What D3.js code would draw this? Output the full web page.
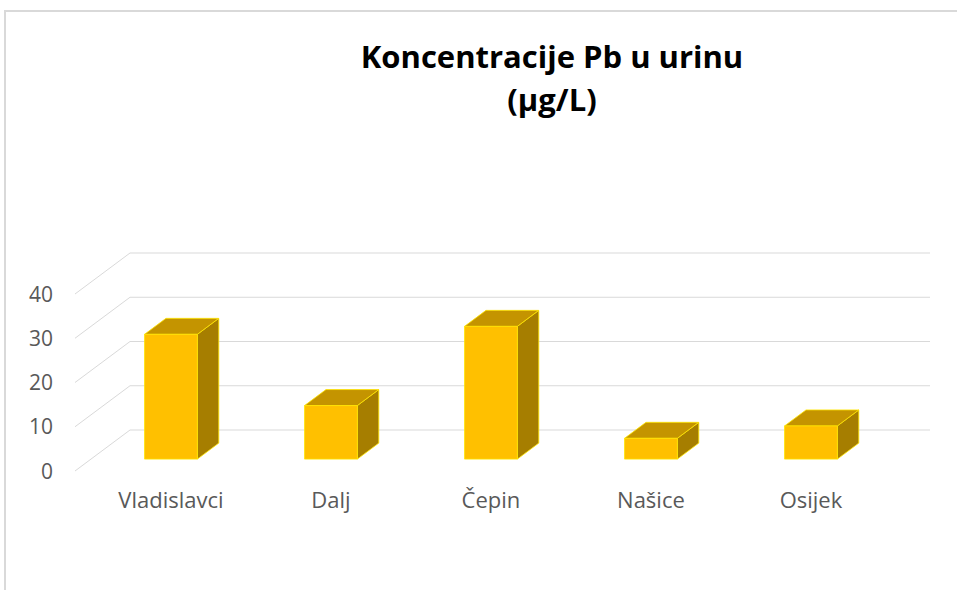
<!DOCTYPE html>
<html>
<head>
<meta charset="utf-8">
<script src="https://cdn.jsdelivr.net/npm/d3@7"></script>
<style>
  body { margin: 0; background: #fff; }
  svg text { font-family: "Open Sans", sans-serif; }
</style>
</head>
<body>
<div id="chart"></div>
<script>
// data
var categories = ["Vladislavci", "Dalj", "Čepin", "Našice", "Osijek"];
var values     = [28.2, 12.1, 30.0, 4.7, 7.5];
var yTicks     = [0, 10, 20, 30, 40];
var titleLines = ["Koncentracije Pb u urinu", "(µg/L)"];

var width  = 957,
    height = 590;

// 3d layout: front plane of the floor, and the depth offset to the back wall
var front  = {left: 75, right: 875, bottom: 471, top: 294},
    depth  = {dx: 55, dy: -41},
    barD0  = 0.29,   // bar front, as share of the depth
    barD1  = 0.68;   // bar back

var x = d3.scaleBand()
  .domain(categories)
  .range([front.left, front.right])
  .paddingInner(0.67)
  .paddingOuter(0.335);

var y = d3.scaleLinear()
  .domain([0, 40])
  .range([front.bottom, front.top]);

// project a point on the front plane back by share d of the depth
function proj(px, py, d) {
  return [px + d * depth.dx, py + d * depth.dy];
}

var svg = d3.select("#chart")
  .append("svg")
  .attr("width", width)
  .attr("height", height);

// chart border (runs off the picture to the right and bottom)
svg.append("rect")
  .attr("x", 5)
  .attr("y", 11)
  .attr("width", 1000)
  .attr("height", 700)
  .attr("fill", "#fff")
  .attr("stroke", "#d9d9d9")
  .attr("stroke-width", 2);

// title
svg.append("text")
  .attr("x", 552)
  .attr("y", 68)
  .attr("text-anchor", "middle")
  .attr("font-size", 31)
  .attr("font-weight", "bold")
  .attr("fill", "#000")
  .selectAll("tspan")
  .data(titleLines)
  .enter()
  .append("tspan")
  .attr("x", 552)
  .attr("dy", function (d, i) { return i === 0 ? 0 : 43; })
  .text(function (d) { return d; });

// back wall gridlines
var grid = svg.append("g").attr("class", "grid");
grid.selectAll("line.back")
  .data(yTicks)
  .enter()
  .append("line")
  .attr("class", "back")
  .attr("x1", function () { return front.left + depth.dx; })
  .attr("x2", function () { return front.right + depth.dx; })
  .attr("y1", function (d) { return y(d) + depth.dy; })
  .attr("y2", function (d) { return y(d) + depth.dy; })
  .attr("stroke", "#d9d9d9")
  .attr("stroke-width", 1);

// side wall diagonals
grid.selectAll("line.side")
  .data(yTicks)
  .enter()
  .append("line")
  .attr("class", "side")
  .attr("x1", front.left)
  .attr("y1", function (d) { return y(d); })
  .attr("x2", front.left + depth.dx)
  .attr("y2", function (d) { return y(d) + depth.dy; })
  .attr("stroke", "#d9d9d9")
  .attr("stroke-width", 1);

// y axis labels
svg.append("g")
  .selectAll("text")
  .data(yTicks)
  .enter()
  .append("text")
  .attr("x", 53)
  .attr("y", function (d) { return y(d); })
  .attr("dy", "0.36em")
  .attr("text-anchor", "end")
  .attr("font-size", 21)
  .attr("fill", "#595959")
  .text(function (d) { return d; });

// bars
var data = categories.map(function (c, i) { return {name: c, value: values[i]}; });
var line = d3.line();

var bars = svg.append("g")
  .selectAll("g.bar")
  .data(data)
  .enter()
  .append("g")
  .attr("class", "bar");

function corners(d) {
  var x0 = x(d.name), x1 = x(d.name) + x.bandwidth();
  var yb = y(0), yt = y(d.value);
  return {
    fbl: proj(x0, yb, barD0), fbr: proj(x1, yb, barD0),
    ftl: proj(x0, yt, barD0), ftr: proj(x1, yt, barD0),
    bbr: proj(x1, yb, barD1),
    btl: proj(x0, yt, barD1), btr: proj(x1, yt, barD1)
  };
}

// right side
bars.append("path")
  .attr("d", function (d) {
    var p = corners(d);
    return line([p.fbr, p.ftr, p.btr, p.bbr]) + "Z";
  })
  .attr("fill", "#a67e00")
  .attr("stroke", "#ffe600")
  .attr("stroke-width", 0.8)
  .attr("stroke-linejoin", "round");

// top
bars.append("path")
  .attr("d", function (d) {
    var p = corners(d);
    return line([p.ftl, p.ftr, p.btr, p.btl]) + "Z";
  })
  .attr("fill", "#c49400")
  .attr("stroke", "#ffe600")
  .attr("stroke-width", 0.8)
  .attr("stroke-linejoin", "round");

// front
bars.append("path")
  .attr("d", function (d) {
    var p = corners(d);
    return line([p.fbl, p.fbr, p.ftr, p.ftl]) + "Z";
  })
  .attr("fill", "#ffc000")
  .attr("stroke", "#ffe600")
  .attr("stroke-width", 0.8)
  .attr("stroke-linejoin", "round");

// category labels
svg.append("g")
  .selectAll("text")
  .data(categories)
  .enter()
  .append("text")
  .attr("x", function (d) { return x(d) + x.bandwidth() / 2 + barD0 * depth.dx; })
  .attr("y", 508)
  .attr("text-anchor", "middle")
  .attr("font-size", 22)
  .attr("fill", "#595959")
  .text(function (d) { return d; });
</script>
</body>
</html>
